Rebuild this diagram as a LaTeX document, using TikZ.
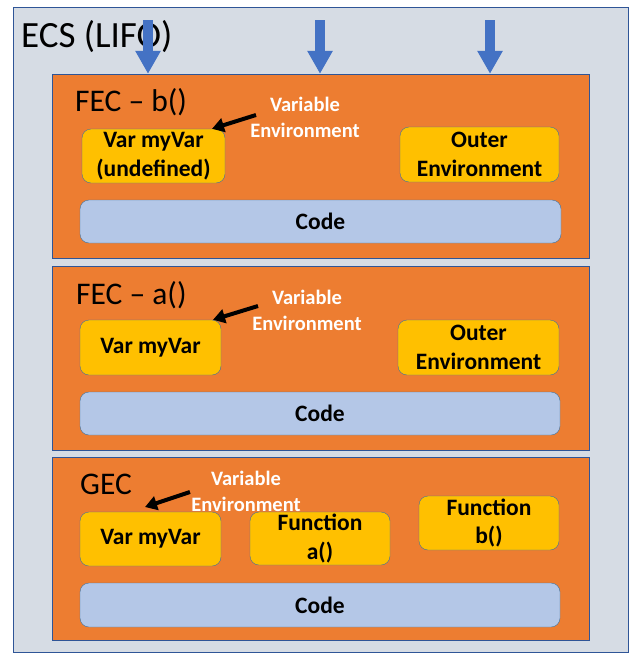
\documentclass[tikz,border=0pt]{standalone}
\usepackage{fontspec}
\setmainfont{Carlito}
\definecolor{StackGray}{RGB}{214,220,228}
\definecolor{FrameBlue}{RGB}{47,85,151}
\definecolor{BoxEdge}{RGB}{65,113,156}
\definecolor{CtxOrange}{RGB}{237,125,49}
\definecolor{VarGold}{RGB}{255,192,0}
\definecolor{CodeBlue}{RGB}{180,199,231}
\definecolor{PushBlue}{RGB}{68,114,196}
\usetikzlibrary{arrows.meta,positioning}

\tikzset{
  stackbox/.style={draw=FrameBlue, fill=StackGray, minimum width=615pt, minimum height=645pt, inner sep=0pt},
  ctxbox/.style={draw=FrameBlue, fill=CtxOrange, minimum width=537pt, minimum height=184pt, inner sep=0pt},
  varbox/.style={draw=BoxEdge, fill=VarGold, rounded corners=9pt, minimum width=141pt, minimum height=54pt,
                 inner sep=0pt, align=center, font=\fontsize{23.5}{28.5}\selectfont\bfseries},
  codebox/.style={draw=BoxEdge, fill=CodeBlue, rounded corners=9pt, minimum width=480pt, minimum height=43pt,
                  inner sep=0pt, font=\fontsize{23.5}{28.5}\selectfont\bfseries},
  ctxtitle/.style={anchor=west, inner sep=0pt, font=\fontsize{31.5}{36}\selectfont},
  envlabel/.style={text=white, align=center, inner sep=0pt, font=\fontsize{20.5}{26}\selectfont\bfseries},
  envarrow/.style={-{Triangle[width=14pt,length=12pt]}, line width=4pt, black},
  pusharrow/.style={-{Triangle[width=24pt,length=23pt]}, line width=10pt, PushBlue},
}

\begin{document}
\begin{tikzpicture}[x=1pt, y=-1pt]
  \useasboundingbox (0,0) rectangle (642,664);

  % the stack
  \node[stackbox] (ecs) at (320.5,329.5) {};
  \node[anchor=west, inner sep=0pt, font=\fontsize{37}{42}\selectfont] (ecstitle) at (21,37) {ECS (LIFO)};

  % FEC b()
  \node[ctxbox] (fecb) at (320.5,166) {};
  \node[ctxtitle] (fecbtitle) at (75,102) {FEC -- b()};
  \node[varbox, minimum width=143pt] (varb) at (153.5,156) {Var myVar\\(undefined)};
  \node[varbox, minimum width=159pt, minimum height=55pt] (outerb) at (479.5,154.5) {Outer\\Environment};
  \node[codebox, minimum width=481pt] (codeb) at (320.5,221.5) {Code};
  \node[envlabel] (envb) at (305,117) {Variable\\Environment};
  \coordinate (envbtail) at (256,115);
  \draw[envarrow] (envbtail) -- (varb.north east -| 212,0);

  % FEC a()
  \node[ctxbox] (feca) at (320.5,358) {};
  \node[ctxtitle] (fecatitle) at (76,295) {FEC -- a()};
  \node[varbox, minimum height=55pt] (vara) at (150.5,347.5) {Var myVar};
  \node[varbox, minimum width=161pt, minimum height=55pt] (outera) at (478.5,347.5) {Outer\\Environment};
  \node[codebox] (codea) at (320,413.5) {Code};
  \node[envlabel] (enva) at (307,310) {Variable\\Environment};
  \coordinate (envatail) at (258,306);
  \draw[envarrow] (envatail) -- (vara.north east -| 213,0);

  % GEC
  \node[ctxbox, minimum height=183pt] (gec) at (320.5,548.5) {};
  \node[ctxtitle] (gectitle) at (80,484) {GEC};
  \node[varbox] (varg) at (150.5,539) {Var myVar};
  \node[varbox, minimum width=140pt, minimum height=53pt] (funa) at (320,538.5) {Function\\a()};
  \node[varbox, minimum width=140pt] (funb) at (489,523) {Function\\b()};
  \node[codebox, minimum height=44pt] (codeg) at (320,605) {Code};
  \node[envlabel] (envg) at (246,491) {Variable\\Environment};
  \coordinate (envgtail) at (190,492);
  \coordinate (envgtip) at (145,507);
  \draw[envarrow] (envgtail) -- (envgtip);

  % pushes onto the stack
  \foreach \xpos in {148,320,490}
    \draw[pusharrow] (\xpos,20) -- (\xpos,0 |- fecb.north);
\end{tikzpicture}
\end{document}
